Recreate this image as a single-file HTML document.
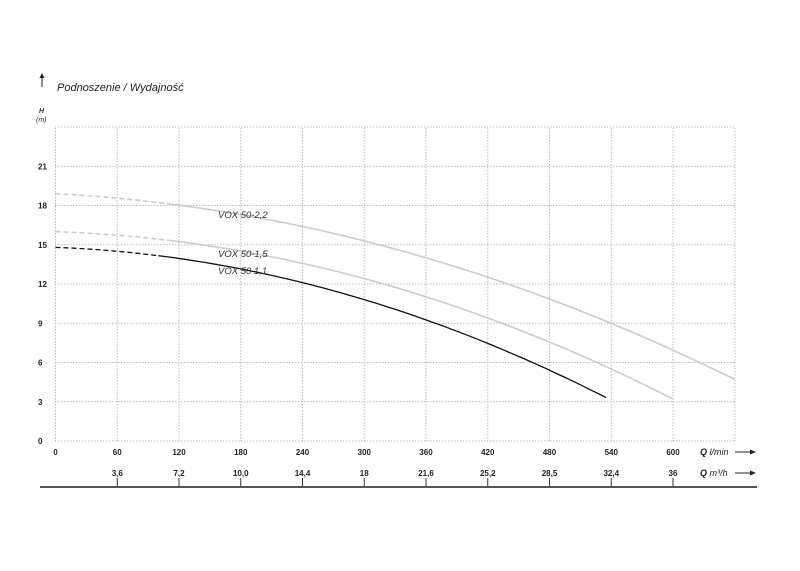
<!DOCTYPE html>
<html><head><meta charset="utf-8"><style>
body{margin:0;background:#fff}
svg{display:block}
text{font-family:"Liberation Sans",sans-serif}
</style></head><body>
<svg id="s" width="800" height="571" viewBox="0 0 800 571">
<g font-size="8" font-weight="bold" fill="#222" id="lab"></g>
<g stroke="#bbb" stroke-width="1" stroke-dasharray="1.5,1.5" id="grid"></g>
<path d="M42 87 V75" stroke="#222" stroke-width="1"/><path d="M39.5 78 L42 73 L44.5 78Z" fill="#222"/>
<text x="57" y="91" font-size="11" font-style="italic" fill="#222">Podnoszenie / Wydajność</text>
<text x="39" y="113" font-size="7" font-style="italic" font-weight="bold" fill="#333">H</text>
<text x="36" y="122" font-size="7" font-style="italic" fill="#333">(m)</text>
<g id="curves" fill="none"></g>
<g font-size="9.5" font-style="italic" fill="#333">
<text x="218" y="218">VOX 50-2,2</text>
<text x="218" y="257">VOX 50-1,5</text>
<text x="218" y="274">VOX 50 1,1</text>
</g>
<text x="700" y="455" font-size="9" font-style="italic" fill="#222"><tspan font-weight="bold">Q</tspan> l/min</text>
<path d="M735 452 H752" stroke="#222"/><path d="M750 449.5 L756 452 L750 454.5Z" fill="#222"/>
<text x="700" y="476" font-size="9" font-style="italic" fill="#222"><tspan font-weight="bold">Q</tspan> m³/h</text>
<path d="M735 473 H752" stroke="#222"/><path d="M750 470.5 L756 473 L750 475.5Z" fill="#222"/>
<path d="M40 487 H757" stroke="#555" stroke-width="2"/>
</svg>
<script>
var ns="http://www.w3.org/2000/svg";
function X(q){return 55.5+q*61.75/60}
function Y(h){return 441-h*39.25/3}
function el(p,t,a,txt){var e=document.createElementNS(ns,t);for(var k in a)e.setAttribute(k,a[k]);if(txt!=null)e.textContent=txt;document.getElementById(p).appendChild(e);return e}
for(var h=0;h<=24;h+=3){el("grid","line",{x1:55,x2:735,y1:Y(h),y2:Y(h)});if(h<24)el("lab","text",{x:38,y:Y(h)+3},h)}
var m3=["","3,6","7,2","10,0","14,4","18","21,6","25,2","28,5","32,4","36"];
for(var q=0;q<=600;q+=60){var x=X(q);el("grid","line",{x1:x,x2:x,y1:128,y2:441});
el("lab","text",{x:x,y:455,"text-anchor":"middle"},q);
if(q>0){el("lab","text",{x:x,y:476,"text-anchor":"middle"},m3[q/60]);el("lab","line",{x1:x,x2:x,y1:478,y2:487,stroke:"#333","stroke-width":1})}}
el("grid","line",{x1:735,x2:735,y1:128,y2:441});
function curve(H0,b,a,qmax,qd,col,w){var d1="",d2="";
for(var q=0;q<=qmax+0.1;q+=5){var h=H0-b*q-a*q*q;var pt=X(q).toFixed(1)+" "+Y(h).toFixed(1);
if(q<=qd)d1+=(d1?"L":"M")+pt;if(q>=qd)d2+=(d2?"L":"M")+pt;}
el("curves","path",{d:d1,stroke:col,"stroke-width":w,"stroke-dasharray":"5,3"});
el("curves","path",{d:d2,stroke:col,"stroke-width":w});}
curve(18.9,0.00412,2.635e-5,660,110,"#ccc",1.6);
curve(16,0.0026,3.12e-5,600,110,"#ccc",1.6);
curve(14.8,0.0029,3.47e-5,535,100,"#111",1.3);
</script>
</body></html>
